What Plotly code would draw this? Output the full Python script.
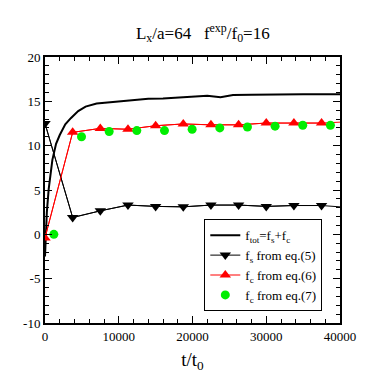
import plotly.graph_objects as go

# total force curve f_tot = f_s + f_c
t_tot = [0, 250, 500, 750, 1000, 1500, 2000, 2750, 3500, 4500, 5500, 7000, 8500,
         10000, 12000, 14000, 16000, 18000, 20000, 22000, 23800, 25500, 28000,
         31500, 35000, 40000]
f_tot = [-2.5, 2.5, 5.1, 7.0, 8.4, 10.2, 11.2, 12.4, 13.1, 13.9, 14.4, 14.75, 14.85,
         14.95, 15.15, 15.3, 15.33, 15.45, 15.55, 15.62, 15.45, 15.72, 15.75,
         15.8, 15.8, 15.8]

# f_s from eq.(5)
t_s = [0, 3750, 7500, 11250, 15000, 18750, 22500, 26250, 30000, 33750, 37500]
f_s = [12.5, 1.9, 2.65, 3.3, 3.15, 3.1, 3.3, 3.3, 3.15, 3.25, 3.25]
t_s_line = t_s + [40000]
f_s_line = f_s + [3.1]

# f_c from eq.(6)
t_c6 = [0, 3750, 7500, 11250, 15000, 18750, 22500, 26250, 30000, 33750, 37500]
f_c6 = [-0.4, 11.5, 11.95, 11.85, 12.25, 12.45, 12.35, 12.35, 12.55, 12.55, 12.55]
t_c6_line = t_c6 + [40000]
f_c6_line = f_c6 + [12.65]

# f_c from eq.(7)
t_c7 = [1200, 4950, 8700, 12450, 16200, 19950, 23700, 27450, 31200, 34950, 38700]
f_c7 = [0.0, 11.0, 11.6, 11.7, 11.7, 11.85, 12.0, 12.1, 12.2, 12.3, 12.3]

x_ticks = [0, 10000, 20000, 30000, 40000]
y_ticks = [-10, -5, 0, 5, 10, 15, 20]

serif = "Times New Roman, Liberation Serif, DejaVu Serif, serif"

fig = go.Figure()

fig.add_trace(go.Scatter(
    x=t_tot, y=f_tot, mode="lines",
    line=dict(color="black", width=2),
    name="f<sub>tot</sub>=f<sub>s</sub>+f<sub>c</sub>"
))
# lines reach the right edge past the last marker
fig.add_trace(go.Scatter(
    x=t_s_line, y=f_s_line, mode="lines",
    line=dict(color="black", width=1), showlegend=False
))
fig.add_trace(go.Scatter(
    x=t_c6_line, y=f_c6_line, mode="lines",
    line=dict(color="#ff0000", width=1), showlegend=False
))
fig.add_trace(go.Scatter(
    x=t_s, y=f_s, mode="lines+markers",
    line=dict(color="black", width=1),
    marker=dict(symbol="triangle-down", size=10, color="black"),
    name="f<sub>s</sub> from eq.(5)"
))
fig.add_trace(go.Scatter(
    x=t_c6, y=f_c6, mode="lines+markers",
    line=dict(color="#ff0000", width=1),
    marker=dict(symbol="triangle-up", size=10, color="#ff0000"),
    name="f<sub>c</sub> from eq.(6)"
))
fig.add_trace(go.Scatter(
    x=t_c7, y=f_c7, mode="markers",
    marker=dict(symbol="circle", size=9, color="#00ee00"),
    name="f<sub>c</sub> from eq.(7)"
))

fig.update_xaxes(
    range=[0, 40000],
    tickvals=x_ticks,
    ticktext=[str(v) for v in x_ticks],
    ticks="inside", ticklen=7, tickwidth=1, tickcolor="black",
    minor=dict(dtick=2000, ticks="inside", ticklen=4, tickcolor="black"),
    showline=True, linecolor="black", linewidth=2, mirror="allticks",
    showgrid=False, zeroline=False,
    tickfont=dict(family=serif, size=13),
    title_text="t/t<sub>0</sub>", title_font=dict(family=serif, size=19), title_standoff=10
)
fig.update_yaxes(
    range=[-10, 20],
    tickvals=y_ticks,
    ticktext=[str(v) for v in y_ticks],
    ticks="inside", ticklen=7, tickwidth=1, tickcolor="black",
    minor=dict(dtick=1, ticks="inside", ticklen=4, tickcolor="black"),
    showline=True, linecolor="black", linewidth=2, mirror="allticks",
    showgrid=False, zeroline=False,
    tickfont=dict(family=serif, size=13)
)

# page body adds ~8px offset, so margins are trimmed on left/top
fig.update_layout(
    width=382, height=382,
    margin=dict(l=37, r=50, t=49, b=67),
    plot_bgcolor="white", paper_bgcolor="white",
    font=dict(family=serif, color="black"),
    title=dict(
        text="L<sub>x</sub>/a=64   f<sup>exp</sup>/f<sub>0</sub>=16",
        x=0.51, xanchor="center", y=0.935, yanchor="middle",
        font=dict(family=serif, size=17)
    ),
    legend=dict(
        x=0.54, y=0.39, xanchor="left", yanchor="top",
        bgcolor="white", bordercolor="black", borderwidth=1,
        font=dict(family=serif, size=13), tracegroupgap=0, itemwidth=30
    ),
)

fig.write_html("out.html")
